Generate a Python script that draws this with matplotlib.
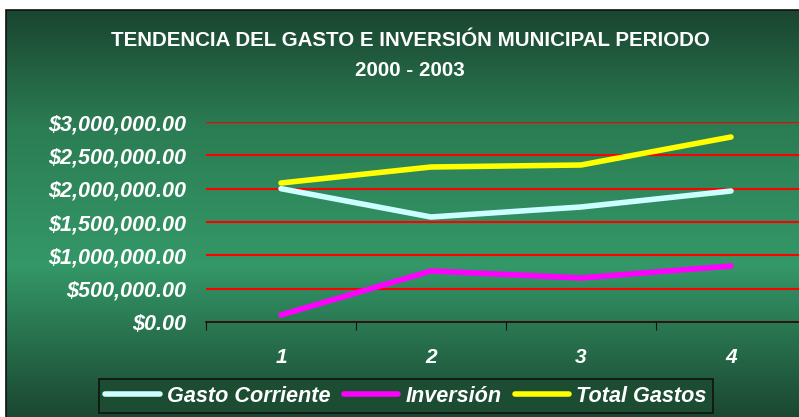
import numpy as np
import matplotlib
matplotlib.use('Agg')
import matplotlib.pyplot as plt
from matplotlib.colors import LinearSegmentedColormap
from matplotlib.patches import Rectangle
from matplotlib.ticker import FuncFormatter, FixedLocator

periodos = [1, 2, 3, 4]
gasto_corriente = [2000000, 1575000, 1725000, 1965000]
inversion = [105000, 765000, 660000, 840000]
total_gastos = [2085000, 2325000, 2355000, 2775000]
series_names = ['Gasto Corriente', 'Inversión', 'Total Gastos']

plt.rcParams['font.family'] = ['Liberation Sans', 'DejaVu Sans']

fig = plt.figure(figsize=(7.99, 4.17), dpi=100)

# green gradient background (dark - light - dark)
bg = fig.add_axes([0, 0, 1, 1], zorder=0)
cmap = LinearSegmentedColormap.from_list('g', [(0, '#1a4530'), (0.28, '#2b7c53'),
                                               (0.62, '#349868'), (1, '#1a4530')])
grad = np.linspace(0, 1, 256).reshape(-1, 1)
x0, y1 = 6 / 799, 1 - 10 / 417
bg.imshow(grad, cmap=cmap, aspect='auto', extent=[x0, 1.01, -0.01, y1],
          transform=bg.transAxes)
bg.add_patch(Rectangle((x0, -0.01), 1.02 - x0, y1 + 0.01, fill=False,
                       edgecolor='#111111', lw=1.2, transform=bg.transAxes))
bg.set_xlim(0, 1)
bg.set_ylim(0, 1)
bg.axis('off')

fig.text(0.513, 0.903, 'TENDENCIA DEL GASTO E INVERSIÓN MUNICIPAL PERIODO',
         ha='center', va='center', color='white', fontsize=14.8, fontweight='bold')
fig.text(0.513, 0.832, '2000 - 2003', ha='center', va='center', color='white',
         fontsize=14.8, fontweight='bold')

ax = fig.add_axes([206 / 799, 95 / 417, 600 / 799, 200 / 417], zorder=1)
ax.patch.set_alpha(0)
ax.plot(periodos, gasto_corriente, color='#ccffff', lw=4, label=series_names[0],
        solid_capstyle='round', zorder=3)
ax.plot(periodos, inversion, color='#ff00ff', lw=4, label=series_names[1],
        solid_capstyle='round', zorder=3)
ax.plot(periodos, total_gastos, color='#ffff00', lw=4, label=series_names[2],
        solid_capstyle='round', zorder=3)

ax.set_xlim(0.5, 4.5)
ax.set_ylim(0, 3000000)
ax.set_yticks(np.arange(0, 3000001, 500000))
ax.yaxis.set_major_formatter(FuncFormatter(lambda v, p: '${:,.2f}'.format(v)))
ax.grid(axis='y', color='#ff0000', lw=1.5, zorder=1)
ax.tick_params(axis='y', length=0, pad=14, labelcolor='white', labelsize=15.6)
for lb in ax.get_yticklabels():
    lb.set_fontweight('bold')
    lb.set_fontstyle('italic')

ax.xaxis.set_major_locator(FixedLocator([0.5, 1.5, 2.5, 3.5, 4.5]))
ax.xaxis.set_minor_locator(FixedLocator(periodos))
ax.xaxis.set_major_formatter(FuncFormatter(lambda v, p: ''))
ax.set_xticklabels([str(p) for p in periodos], minor=True)
ax.tick_params(axis='x', which='major', length=6, color='#111111', direction='out')
ax.tick_params(axis='x', which='minor', length=0, pad=19, labelcolor='white',
               labelsize=15)
for lb in ax.get_xticklabels(minor=True):
    lb.set_fontweight('bold')
    lb.set_fontstyle('italic')

for s in ['top', 'right', 'left']:
    ax.spines[s].set_visible(False)
ax.spines['bottom'].set_color('#111111')
ax.spines['bottom'].set_linewidth(1.2)

leg = fig.legend(loc='center', bbox_to_anchor=(406 / 799, 21 / 417), ncol=3,
                 frameon=True, fancybox=False, handlelength=2.5, columnspacing=0.6,
                 handletextpad=0.35, borderpad=0.3,
                 prop={'weight': 'bold', 'style': 'italic', 'size': 15.6})
leg.get_frame().set_facecolor('#1c4d33')
leg.get_frame().set_edgecolor('#111111')
leg.get_frame().set_alpha(1)
leg.get_frame().set_linewidth(1.2)
for t in leg.get_texts():
    t.set_color('white')

fig.savefig('out.png', dpi=100)
